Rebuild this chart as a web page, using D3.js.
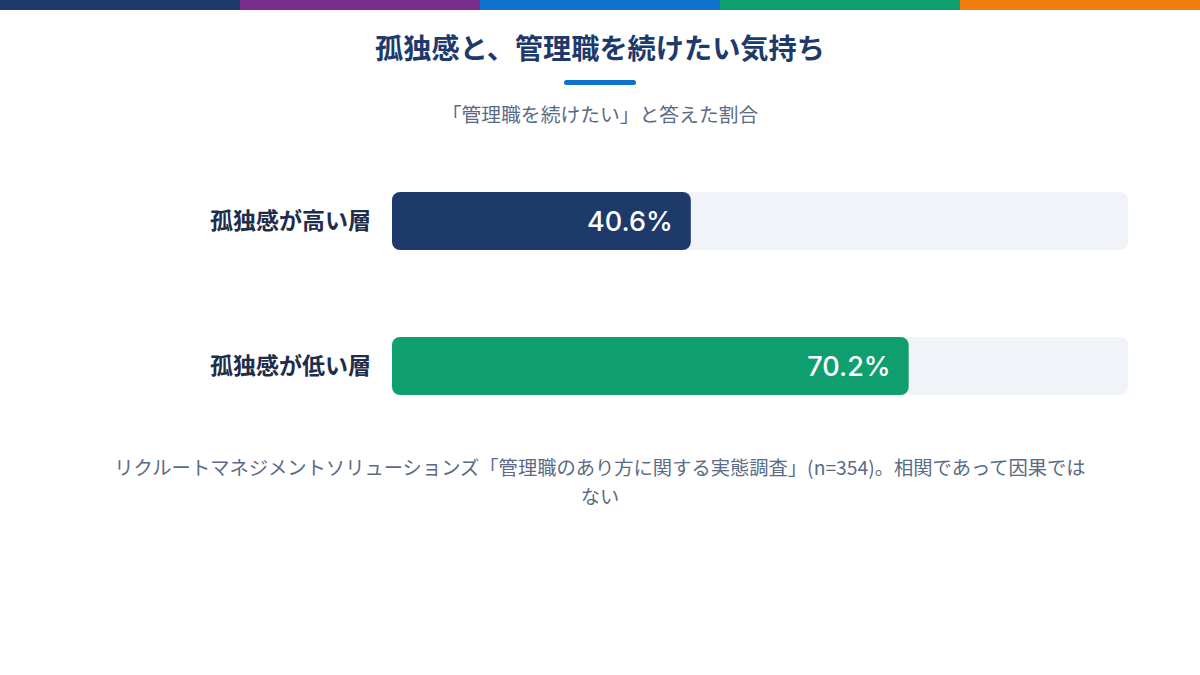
<!DOCTYPE html>
<html><head><meta charset="utf-8">
<script src="https://cdn.jsdelivr.net/npm/d3@7"></script>
<style>
html,body{margin:0;padding:0;background:#fff;}
svg{display:block;font-family:"Noto Sans CJK JP","Noto Sans",sans-serif;}
</style></head>
<body>
<script>
const title = "孤独感と、管理職を続けたい気持ち";
const subtitle = "「管理職を続けたい」と答えた割合";
const categories = ["孤独感が高い層", "孤独感が低い層"];
const values = [40.6, 70.2];
const barColors = ["#1e3a6b", "#0f9f6e"];
const stripeColors = ["#1e3a6b", "#7b2d8e", "#0e72cc", "#0f9f6e", "#f07f0f"];
const footnoteLines = ["リクルートマネジメントソリューションズ「管理職のあり方に関する実態調査」(n=354)。相関であって因果では", "ない"];

const W = 1200, H = 675;
const svg = d3.select("body").append("svg").attr("width", W).attr("height", H);

const sx = d3.scaleBand().domain(d3.range(stripeColors.length)).range([0, W]);
svg.selectAll("rect.stripe").data(stripeColors).join("rect")
  .attr("x", (d, i) => sx(i)).attr("y", 0).attr("width", sx.bandwidth()).attr("height", 10).attr("fill", d => d);

svg.append("text").attr("x", W / 2).attr("y", 59).attr("text-anchor", "middle")
  .attr("font-size", 28.2).attr("font-weight", 700).attr("fill", "#1e3a6b").text(title);
svg.append("rect").attr("x", 564).attr("y", 80).attr("width", 72).attr("height", 5).attr("rx", 2.5).attr("fill", "#0e72cc");
svg.append("text").attr("x", W / 2).attr("y", 122).attr("text-anchor", "middle")
  .attr("font-size", 19.8).attr("fill", "#5b6b85").text(subtitle);

const x = d3.scaleLinear().domain([0, 100]).range([392, 1128]);
const y = d3.scaleBand().domain(categories).range([192, 395]).paddingInner(0.6).paddingOuter(0);
const g = svg.append("g");
const rows = g.selectAll("g.row").data(categories).join("g");
rows.append("rect").attr("x", x(0)).attr("y", d => y(d)).attr("width", x(100) - x(0)).attr("height", y.bandwidth())
  .attr("rx", 8).attr("fill", "#f0f3f8");
rows.append("rect").attr("x", x(0)).attr("y", d => y(d)).attr("width", (d, i) => x(values[i]) - x(0)).attr("height", y.bandwidth())
  .attr("rx", 8).attr("fill", (d, i) => barColors[i]);
rows.append("text").attr("x", 371).attr("y", d => y(d) + y.bandwidth() / 2).attr("dy", "0.35em").attr("text-anchor", "end")
  .attr("font-size", 23).attr("font-weight", 700).attr("fill", "#1e2d4a").text(d => d);
rows.append("text").attr("x", (d, i) => x(values[i]) - 18).attr("y", d => y(d) + y.bandwidth() / 2).attr("dy", "0.36em").attr("text-anchor", "end")
  .attr("font-family", "Inter, 'Liberation Sans', sans-serif")
  .attr("font-size", 27).attr("font-weight", 500).attr("fill", "#fff").text((d, i) => values[i].toFixed(1) + "%");

svg.selectAll("text.foot").data(footnoteLines).join("text")
  .attr("x", W / 2).attr("y", (d, i) => 475 + i * 29).attr("text-anchor", "middle")
  .attr("font-size", 19.3).attr("fill", "#5b6b85").text(d => d);
</script>
</body></html>
